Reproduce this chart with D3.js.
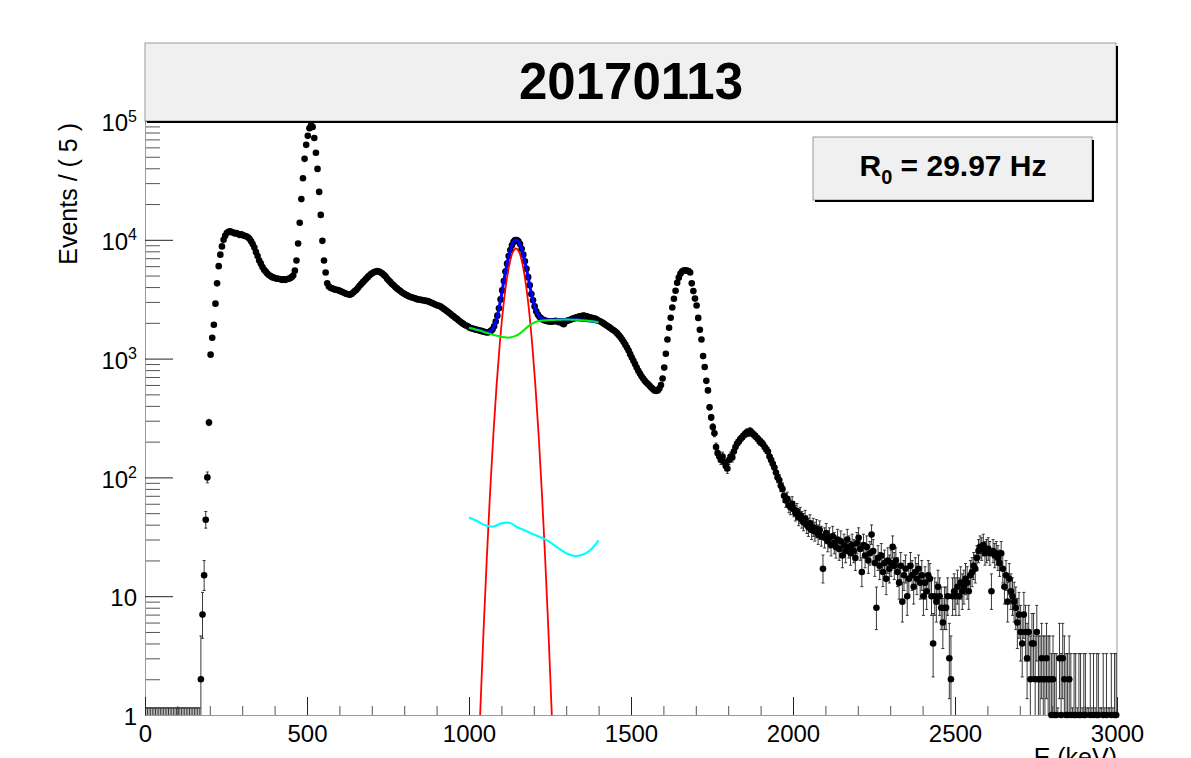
<!DOCTYPE html>
<html>
<head>
<meta charset="utf-8">
<script src="https://cdn.jsdelivr.net/npm/d3@7"></script>
<style>
  body { margin: 0; background: #fff; }
  svg { display: block; font-family: "Liberation Sans", Arial, Helvetica, sans-serif; }
</style>
</head>
<body>
<div id="chartContainer"></div>
<script>
// spectrum, 5 keV bins from 0 to 3000 keV, one row per 100 keV
const binWidth = 5
const counts = [
  0,0,0,0,0,0,0,0,0,0,0,0,0,0,0,0,0,0,0,0,
  0,0,0,0,0,0,0,0,0,0,0,0,0,0,2,7,15,44,100,290,
  1080,1500,1930,2900,4300,6000,7500,8800,10000,10800,11400,11700,11800,11600,11500,11300,11400,11200,11000,11100,
  10900,10800,10700,10500,10200,9700,9200,8600,7900,7300,6700,6300,5900,5600,5400,5200,5050,4950,4850,4800,
  4750,4700,4700,4650,4600,4650,4600,4650,4700,4750,4850,5000,5500,6700,9300,13900,22000,33000,48000,63000,
  75000,87000,92000,89000,72000,54000,39500,25300,16200,9800,6700,5300,4300,4050,3950,3900,3850,3800,3800,3750,
  3700,3650,3600,3550,3500,3480,3450,3500,3600,3700,3800,3950,4100,4250,4400,4550,4700,4850,5000,5150,
  5250,5350,5400,5450,5400,5300,5200,5050,4900,4700,4550,4400,4250,4150,4000,3900,3800,3720,3620,3550,
  3480,3420,3360,3320,3280,3250,3220,3180,3150,3130,3120,3100,3080,3060,3050,3000,2960,2920,2880,2840,
  2800,2780,2740,2680,2620,2560,2500,2440,2380,2320,2270,2210,2160,2100,2050,2000,1960,1920,1890,1860,
  1815,1800,1785,1770,1750,1740,1725,1710,1690,1680,1665,1660,1675,1710,1760,1870,2050,2300,2650,3150,
  3750,4500,5400,6300,7300,8200,9000,9600,9950,9950,9700,9200,8400,7500,6600,5700,4850,4150,3500,3100,
  2750,2500,2350,2250,2180,2130,2100,2080,2060,2050,2040,2060,2050,2080,2060,2020,2050,1980,1950,2040,
  2080,2100,2120,2150,2180,2200,2230,2250,2270,2280,2300,2290,2270,2250,2230,2200,2190,2170,2150,2100,
  2070,2040,2000,1960,1920,1880,1840,1800,1760,1720,1680,1630,1570,1510,1450,1380,1310,1240,1170,1090,
  1020,960,900,840,790,750,710,680,650,630,610,590,570,555,540,535,540,560,600,680,
  840,1100,1450,1820,2210,2690,3190,3720,4350,4800,5180,5400,5500,5550,5500,5450,5300,4300,3700,3200,
  2800,2200,1750,1450,1050,850,650,540,390,320,265,235,180,160,150,140,150,135,125,119,
  140,150,147,165,180,193,200,210,217,225,232,240,236,245,239,230,225,217,210,200,
  197,190,180,172,165,150,140,130,121,110,100,95,85,80,70,64,66,58,56,60,
  54,50,52,46,48,44,42,45,40,38,41,36,38,35,37,33,36,32,17,31,
  34,29,31,27,32,28,26,30,25,29,22,27,24,30,26,23,27,24,21,28,
  31,25,16,27,22,26,20,23,33,24,19,8,21,18,22,16,19,14,20,17,
  19,26,18,20,16,13,18,9,15,17,10,14,18,15,12,16,14,17,13,15,
  10,13,11,15,14,10,4,10,9,12,10,8,6,8,8,10,3,2,10,11,
  10,12,10,13,11,12,14,13,11,15,16,18,17,21,24,26,25,27,23,24,
  25,23,11,24,22,23,21,19,23,17,12,15,9,14,11,10,9,8,6,7,
  5,4,7,5,3,5,2,4,4,2,5,2,2,3,2,2,3,2,2,1,
  2,1,1,0,3,1,3,2,1,1,2,1,0,1,1,0,1,1,0,1,
  1,0,0,1,0,1,0,1,1,0,0,1,0,1,0,0,1,0,1,1
]

// fit curves, 1000-1400 keV
const fitE = d3.range(1000, 1401, 10)
const bkgGreen = [1820,1790,1760,1730,1700,1660,1630,1600,1570,1550,1530,1510,1500,1510,1540,1580,1650,1740,1840,1930,
  2000,2050,2080,2095,2105,2110,2115,2120,2125,2130,2130,2130,2125,2120,2115,2100,2090,2075,2060,2040,2010]
const totalBlue = [1820,1790,1760,1731,1702,1671,1670,1732,1941,2452,3420,4925,6820,8670,9840,9880,8810,7060,5255,3820,
  2902,2421,2212,2135,2116,2112,2116,2120,2125,2130,2130,2130,2125,2120,2115,2100,2090,2075,2060,2040,2010]
const sigE = d3.range(1025, 1266, 10)
const sigRed = [0.2,1.1,5.2,21,74,225,590,1330,2590,4340,6290,7850,8450,7850,6290,4340,2590,1330,590,225,74,21,5.2,1.1,0.2]
const cyanE = d3.range(1000, 1401, 25)
const cyanY = [46,43,39.5,38.5,41,41.5,38,35.5,33,31,28.5,25.5,23,21.8,22.3,24.5,29.5]

const xTicks = [0, 500, 1000, 1500, 2000, 2500, 3000]
const yDecades = [1, 10, 100, 1000, 10000, 100000]
const titleText = "20170113"
const rateValue = "29.97"

let width = 1191, height = 758
let frame = {left: 145, right: 1117, top: 121, bottom: 715}

let x = d3.scaleLinear()
    .domain([0, 3000])
    .range([frame.left, frame.right])

let y = d3.scaleLog()
    .domain([1, 1e5])
    .range([frame.bottom, frame.top])

let yc = y.copy().clamp(true)

// poisson interval (approx.) as RooFit draws it
let errHi = n => n === 0 ? 1.148 : (n + 1) * Math.pow(1 - 1 / (9 * (n + 1)) + 1 / (3 * Math.sqrt(n + 1)), 3)
let errLo = n => n === 0 ? 1 : n * Math.pow(1 - 1 / (9 * n) - 1 / (3 * Math.sqrt(n)), 3)

const svg = d3.select('#chartContainer')
  .append('svg')
  .attr('width', width)
  .attr('height', height)

svg.append("defs").append("clipPath")
    .attr("id", "frameClip")
  .append("rect")
    .attr("x", frame.left)
    .attr("y", frame.top)
    .attr("width", frame.right - frame.left)
    .attr("height", frame.bottom - frame.top)

// frame right edge
svg.append("line")
    .attr("x1", frame.right).attr("x2", frame.right)
    .attr("y1", frame.top).attr("y2", frame.bottom)
    .attr("stroke", "#999")

// axes
let yMinor = []
yDecades.slice(0, -1).forEach(d => d3.range(2, 10).forEach(m => yMinor.push(m * d)))

svg.append("g")
    .attr("transform", `translate(${frame.left},0)`)
    .call(d3.axisLeft(y).tickValues(yMinor).tickSize(-15).tickSizeOuter(0).tickFormat(""))
    .call(g => g.select(".domain").remove())
    .call(g => g.selectAll(".tick line").attr("stroke", "#555"))

let yAxis = svg.append("g")
    .attr("transform", `translate(${frame.left},0)`)
    .call(d3.axisLeft(y).tickValues(yDecades).tickSize(-28).tickSizeOuter(0).tickPadding(8).tickFormat(d => d))
    .attr("font-size", 24)
    .attr("font-family", null)
    .call(g => g.select(".domain").attr("stroke", "#999"))
    .call(g => g.selectAll(".tick line").attr("stroke", "#222"))

yAxis.selectAll(".tick text").each(function(d) {
  let e = Math.round(Math.log10(d))
  let t = d3.select(this).attr("fill", "#000").attr("dy", "0.4em")
  if (e >= 2) {
    t.text("10")
    t.append("tspan").attr("dy", "-0.6em").attr("font-size", 16).text(e)
  }
})

let xMinor = d3.range(0, 3001, 100).filter(d => d % 500 !== 0)

svg.append("g")
    .attr("transform", `translate(0,${frame.bottom})`)
    .call(d3.axisBottom(x).tickValues(xMinor).tickSize(-9).tickSizeOuter(0).tickFormat(""))
    .call(g => g.select(".domain").remove())
    .call(g => g.selectAll(".tick line").attr("stroke", "#555"))

svg.append("g")
    .attr("transform", `translate(0,${frame.bottom})`)
    .call(d3.axisBottom(x).tickValues(xTicks).tickSize(-18).tickSizeOuter(0).tickPadding(10).tickFormat(d => d))
    .attr("font-size", 24)
    .attr("font-family", null)
    .call(g => g.select(".domain").attr("stroke", "#999"))
    .call(g => g.selectAll(".tick line").attr("stroke", "#222"))
    .call(g => g.selectAll(".tick text").attr("fill", "#000"))

// axis titles
svg.append("text")
    .attr("transform", `translate(77,${frame.top + 2}) rotate(-90)`)
    .attr("text-anchor", "end")
    .attr("font-size", 25)
    .text("Events / ( 5 )")

// cut by the bottom edge, as in the original canvas
svg.append("text")
    .attr("x", frame.right)
    .attr("y", 766)
    .attr("text-anchor", "end")
    .attr("font-size", 25)
    .text("E (keV)")

// data points with error bars
let pts = counts.map((n, i) => ({e: i * binWidth + binWidth / 2, n}))

let bars = svg.append("g")
    .attr("clip-path", "url(#frameClip)")
    .attr("stroke", "#222")
    .attr("stroke-width", 0.9)

bars.selectAll("path")
  .data(pts)
  .join("path")
    .attr("fill", "none")
    .attr("d", d => {
      let px = x(d.e), top = yc(errHi(d.n)), bot = yc(errLo(d.n))
      let s = `M${px},${bot}V${top}M${px - 1.5},${top}H${px + 1.5}`
      if (errLo(d.n) > 1) s += `M${px - 1.5},${bot}H${px + 1.5}`
      return s
    })

svg.append("g")
  .selectAll("circle")
  .data(pts.filter(d => d.n > 0))
  .join("circle")
    .attr("cx", d => x(d.e))
    .attr("cy", d => y(d.n))
    .attr("r", 3.3)
    .attr("fill", "#000")

// fit components
let line = d3.line()
    .x(d => x(d[0]))
    .y(d => y(d[1]))
    .curve(d3.curveCatmullRom)

let curves = svg.append("g")
    .attr("clip-path", "url(#frameClip)")
    .attr("fill", "none")

curves.append("path")
    .attr("stroke", "#ff0000")
    .attr("stroke-width", 1.8)
    .attr("d", line(d3.zip(sigE, sigRed)))

curves.append("path")
    .attr("stroke", "#0000ff")
    .attr("stroke-width", 3)
    .attr("d", line(d3.zip(fitE, totalBlue)))

curves.append("path")
    .attr("stroke", "#00ee00")
    .attr("stroke-width", 2)
    .attr("d", line(d3.zip(fitE, bkgGreen)))

curves.append("path")
    .attr("stroke", "#00ffff")
    .attr("stroke-width", 2.2)
    .attr("d", line(d3.zip(cyanE, cyanY)))

// title and rate paves
let pave = (x0, y0, w, h) => {
  let g = svg.append("g")
  g.append("rect")
      .attr("x", x0).attr("y", y0)
      .attr("width", w).attr("height", h)
      .attr("fill", "#f0f0f0")
      .attr("stroke", "#999")
  g.append("path")
      .attr("fill", "none")
      .attr("stroke", "#000")
      .attr("stroke-width", 2)
      .attr("d", `M${x0 + w + 1},${y0 + 3}V${y0 + h + 1}H${x0 + 2}`)
  return g
}

pave(frame.left, 43, frame.right - frame.left - 1, 78)
  .append("text")
    .attr("x", (frame.left + frame.right) / 2)
    .attr("y", 99)
    .attr("text-anchor", "middle")
    .attr("font-size", 51)
    .attr("font-weight", "bold")
    .text(titleText)

let rate = pave(813, 137, 279, 63)
  .append("text")
    .attr("x", 953)
    .attr("y", 176)
    .attr("text-anchor", "middle")
    .attr("font-size", 30)
    .attr("font-weight", "bold")

rate.append("tspan").text("R")
rate.append("tspan").attr("dy", 8).attr("font-size", 20).text("0")
rate.append("tspan").attr("dy", -8).text(` = ${rateValue} Hz`)

svg.node()
</script>
</body>
</html>
